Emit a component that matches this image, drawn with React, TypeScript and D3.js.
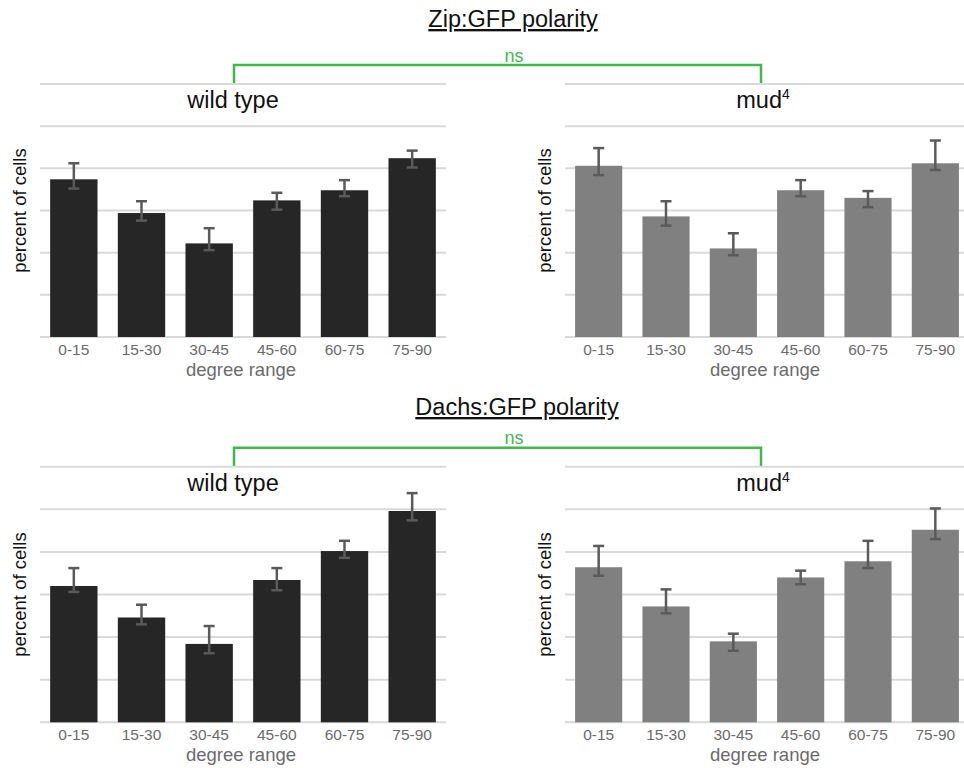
import React from 'react';
import * as d3 from 'd3';

const categories = ['0-15', '15-30', '30-45', '45-60', '60-75', '75-90'];
const yTicks = [0, 5, 10, 15, 20, 25, 30];

// Zip:GFP polarity
const zipWT = [18.7, 14.7, 11.1, 16.2, 17.4, 21.2];
const zipWTLo = [17.6, 13.8, 10.3, 15.1, 16.7, 20.1];
const zipWTHi = [20.6, 16.1, 12.9, 17.1, 18.6, 22.1];
const zipMud = [20.3, 14.3, 10.5, 17.4, 16.5, 20.6];
const zipMudLo = [19.2, 13.2, 9.7, 16.7, 15.4, 19.8];
const zipMudHi = [22.4, 16.1, 12.3, 18.6, 17.3, 23.3];

// Dachs:GFP polarity
const dachsWT = [16.0, 12.3, 9.2, 16.7, 20.1, 24.8];
const dachsWTLo = [15.3, 11.5, 8.1, 15.5, 19.3, 23.7];
const dachsWTHi = [18.1, 13.8, 11.3, 18.1, 21.3, 26.9];
const dachsMud = [18.2, 13.6, 9.5, 17.0, 18.9, 22.6];
const dachsMudLo = [17.2, 12.8, 8.4, 16.2, 18.1, 21.5];
const dachsMudHi = [20.7, 15.6, 10.4, 17.8, 21.3, 25.1];

const FONT = '"Liberation Sans", Arial, sans-serif';
const GREEN = '#3fba4a';

type PanelProps = {
  x0: number; x1: number; gridEnd: number;
  yBase: number; yTop: number;
  values: number[]; lo: number[]; hi: number[];
  fill: string; title: React.ReactNode; titleX: number; yLabelX: number;
};

const Panel = ({ x0, x1, gridEnd, yBase, yTop, values, lo, hi, fill, title, titleX, yLabelX }: PanelProps) => {
  const x = d3.scaleBand<string>().domain(categories).range([x0, x1]).paddingInner(0.3).paddingOuter(0.15);
  const y = d3.scaleLinear().domain([0, 30]).range([yBase, yTop]);
  const bw = x.bandwidth();
  return (
    <g>
      {yTicks.map(t => (
        <line key={t} x1={x0} x2={gridEnd} y1={y(t)} y2={y(t)} stroke="#d9d9d9" strokeWidth={2} />
      ))}
      <text x={titleX} y={y(30) + 24} textAnchor="middle" fontSize={23.5} fill="#111">{title}</text>
      {categories.map((c, i) => {
        const cx = (x(c) as number) + bw / 2;
        return (
          <g key={c}>
            <rect x={x(c)} y={y(values[i])} width={bw} height={yBase - y(values[i])} fill={fill} />
            <line x1={cx} x2={cx} y1={y(hi[i])} y2={y(lo[i])} stroke="#5a5a5a" strokeWidth={2.5} />
            <line x1={cx - 5.5} x2={cx + 5.5} y1={y(hi[i])} y2={y(hi[i])} stroke="#5a5a5a" strokeWidth={2.5} />
            <line x1={cx - 5.5} x2={cx + 5.5} y1={y(lo[i])} y2={y(lo[i])} stroke="#5a5a5a" strokeWidth={2.5} />
            <text x={cx} y={yBase + 18} textAnchor="middle" fontSize={15.5} fill="#6b6b6b">{c}</text>
          </g>
        );
      })}
      <text x={(x0 + x1) / 2 - 2} y={yBase + 39} textAnchor="middle" fontSize={18.5} fill="#6b6b6b">degree range</text>
      <text transform={`translate(${yLabelX},${(yBase + yTop) / 2}) rotate(-90)`} textAnchor="middle"
        fontSize={18.5} fill="#111" dy="0.35em">percent of cells</text>
    </g>
  );
};

const Mud = () => (
  <>
    mud<tspan fontSize={14} dy={-9}>4</tspan>
  </>
);

const Row = ({ yBase, yTop, heading, headingX, headingY, wt, wtLo, wtHi, mud, mudLo, mudHi }: any) => {
  const bracketY = yTop - 19;
  return (
    <g>
      <text x={headingX} y={headingY} textAnchor="middle" fontSize={23.5} fill="#111"
        style={{ textDecoration: 'underline' }}>{heading}</text>
      <path d={`M234,${yTop} V${bracketY} H761 V${yTop}`} fill="none" stroke={GREEN} strokeWidth={2.5} />
      <text x={514} y={bracketY - 3.5} textAnchor="middle" fontSize={18} fill={GREEN}>ns</text>
      <Panel x0={40} x1={446} gridEnd={446} yBase={yBase} yTop={yTop} values={wt} lo={wtLo} hi={wtHi}
        fill="#262626" title="wild type" titleX={233} yLabelX={20} />
      <Panel x0={565} x1={969} gridEnd={964} yBase={yBase} yTop={yTop} values={mud} lo={mudLo} hi={mudHi}
        fill="#808080" title={<Mud />} titleX={763} yLabelX={545} />
    </g>
  );
};

export default function App() {
  return (
    <svg width={964} height={768} style={{ position: 'absolute', left: 0, top: 0, display: 'block' }}
      fontFamily={FONT}>
      <rect width={964} height={768} fill="#fff" />
      <Row yBase={337} yTop={84} heading="Zip:GFP polarity" headingX={513} headingY={27}
        wt={zipWT} wtLo={zipWTLo} wtHi={zipWTHi} mud={zipMud} mudLo={zipMudLo} mudHi={zipMudHi} />
      <Row yBase={722.3} yTop={466.7} heading="Dachs:GFP polarity" headingX={517} headingY={415}
        wt={dachsWT} wtLo={dachsWTLo} wtHi={dachsWTHi} mud={dachsMud} mudLo={dachsMudLo} mudHi={dachsMudHi} />
    </svg>
  );
}
